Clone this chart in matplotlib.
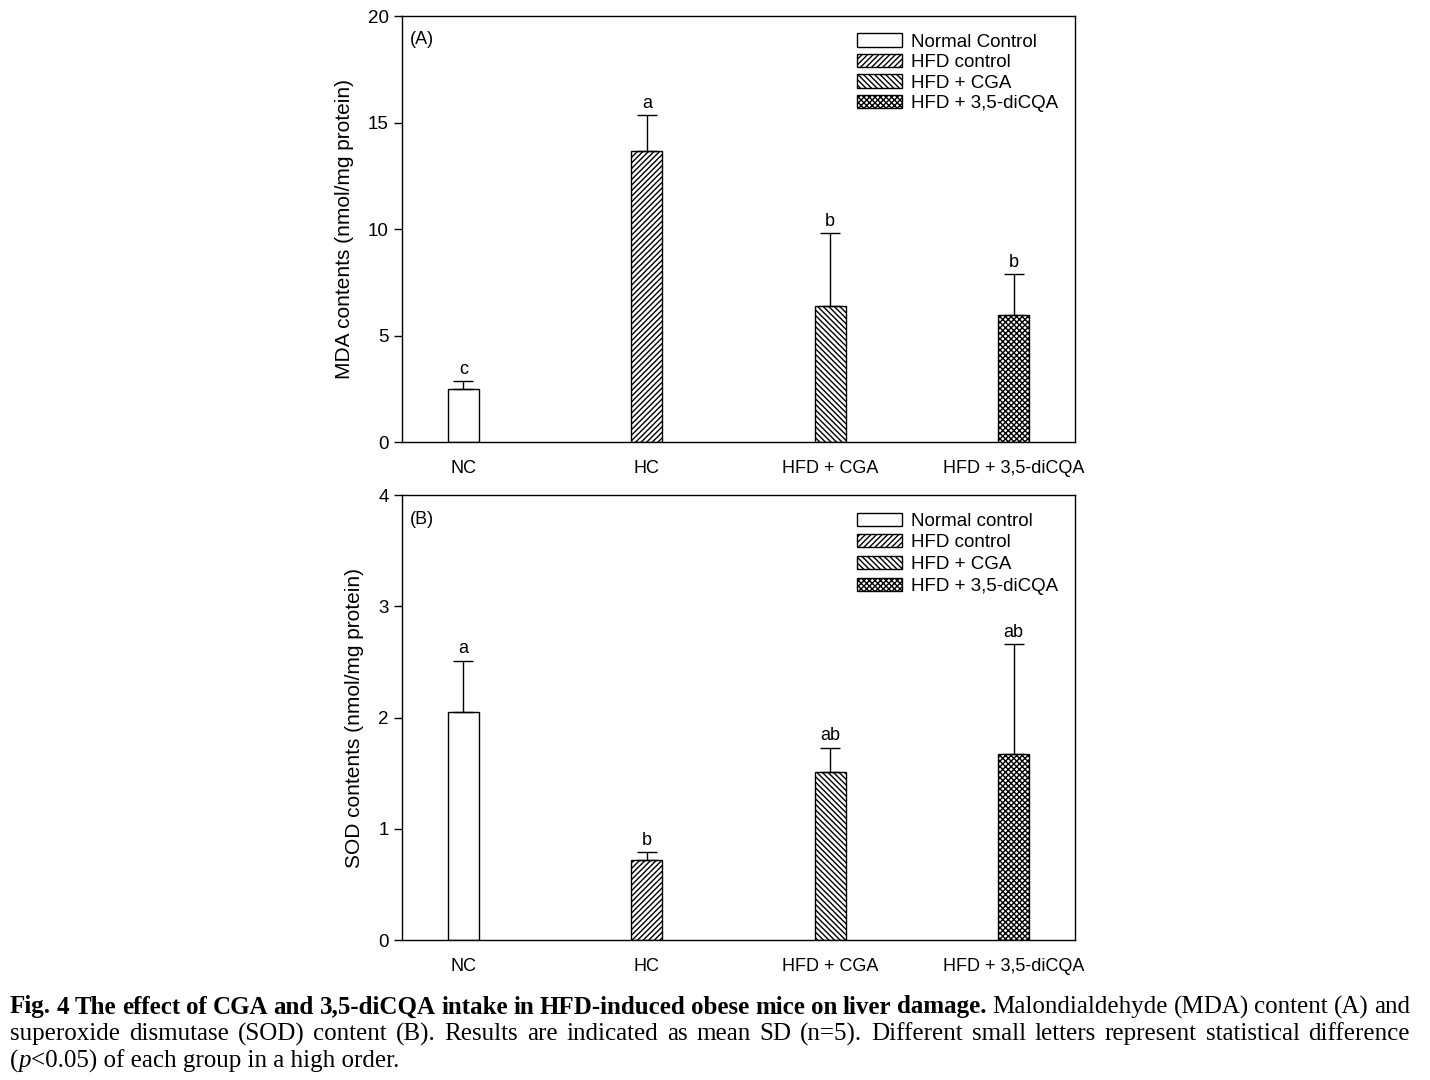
import matplotlib
matplotlib.use("Agg")
import matplotlib.pyplot as plt
import numpy as np

plt.rcParams['font.family'] = ['Liberation Sans', 'DejaVu Sans']
plt.rcParams['hatch.linewidth'] = 1.0

groups = ["NC", "HC", "HFD + CGA", "HFD + 3,5-diCQA"]
legend_a = ["Normal Control", "HFD control", "HFD + CGA", "HFD + 3,5-diCQA"]
legend_b = ["Normal control", "HFD control", "HFD + CGA", "HFD + 3,5-diCQA"]
mda_mean = [2.5, 13.65, 6.38, 5.97]
mda_sd = [0.36, 1.72, 3.43, 1.93]
mda_letters = ["c", "a", "b", "b"]
sod_mean = [2.05, 0.72, 1.51, 1.67]
sod_sd = [0.46, 0.07, 0.22, 0.99]
sod_letters = ["a", "b", "ab", "ab"]
hatches = [None, "//////", "\\\\\\\\\\\\", "xxxxxx"]

fig = plt.figure(figsize=(14.3, 10.8), dpi=100)

def panel(rect, means, sds, letters, ylim, yticks, ylabel, tag, legend_labels, letter_off, legspace):
    ax = fig.add_axes(rect)
    x = np.arange(len(groups))
    for i in range(len(groups)):
        ax.bar(x[i], means[i], width=0.17, color="white", edgecolor="black",
               linewidth=1.0, hatch=hatches[i], label=legend_labels[i], zorder=2)
        ax.errorbar(x[i], means[i], yerr=[[0], [sds[i]]], fmt="none", ecolor="black",
                    elinewidth=1.0, capsize=7, capthick=1.0, zorder=3)
        ax.text(x[i], means[i] + sds[i] + letter_off, letters[i], ha="center", va="bottom",
                fontsize=13)
    ax.set_xlim(-0.335, 3.335)
    ax.set_ylim(*ylim)
    ax.set_yticks(yticks)
    ax.set_xticks(x)
    ax.set_xticklabels(groups, fontsize=13)
    ax.tick_params(axis="x", length=0, pad=13)
    ax.tick_params(axis="y", direction="out", length=6, labelsize=13.5, width=1.0)
    for s in ax.spines.values():
        s.set_linewidth(1.0)
    ax.set_ylabel(ylabel, fontsize=15, labelpad=10)
    ax.text(0.012, 0.965, tag, transform=ax.transAxes, ha="left", va="top", fontsize=13)
    ax.legend(loc="upper right", bbox_to_anchor=(0.995, 0.99), frameon=False,
              fontsize=13.5, handlelength=2.4, handleheight=0.7, labelspacing=legspace,
              handletextpad=0.5, borderaxespad=0.3)
    return ax

panel([0.2811, 0.5907, 0.4706, 0.3944], mda_mean, mda_sd, mda_letters, (0, 20),
      [0, 5, 10, 15, 20], "MDA contents (nmol/mg protein)", "(A)", legend_a, 0.15, 0.18)
panel([0.2811, 0.1296, 0.4706, 0.4120], sod_mean, sod_sd, sod_letters, (0, 4),
      [0, 1, 2, 3, 4], "SOD contents (nmol/mg protein)", "(B)", legend_b, 0.03, 0.24)

# Caption (justified)
cap_lines = [
    [("Fig. 4 The effect of CGA and 3,5-diCQA intake in HFD-induced obese mice on liver damage.", "bold", "normal"),
     ("Malondialdehyde (MDA) content (A) and", "normal", "normal")],
    [("superoxide dismutase (SOD) content (B). Results are indicated as mean SD (n=5). Different small letters represent statistical difference", "normal", "normal")],
    [("(", "normal", "normal"), ("p", "normal", "italic"), ("<0.05) of each group in a high order.", "normal", "normal")],
]
fs = 18
x0, x1 = 10, 1410
ys = [1007, 1034, 1061]
fig.canvas.draw()
renderer = fig.canvas.get_renderer()

def width_of(s, weight, style):
    t = fig.text(0, 0, s, fontsize=fs, family="Liberation Serif", weight=weight, style=style)
    w = t.get_window_extent(renderer).width
    t.remove()
    return w

H = 1080.0
for li, line in enumerate(cap_lines):
    y = 1 - ys[li] / H
    if li < 2:
        words = []
        for seg, weight, style in line:
            for w in seg.split(" "):
                words.append((w, weight, style))
        widths = [width_of(w, wt, st) for w, wt, st in words]
        gap = (x1 - x0 - sum(widths)) / (len(words) - 1)
        xp = x0
        for (w, wt, st), wd in zip(words, widths):
            fig.text(xp / 1430.0, y, w, fontsize=fs, family="Liberation Serif", weight=wt,
                     style=st, va="center", ha="left")
            xp += wd + gap
    else:
        xp = x0
        for seg, wt, st in line:
            fig.text(xp / 1430.0, y, seg, fontsize=fs, family="Liberation Serif", weight=wt,
                     style=st, va="center", ha="left")
            xp += width_of(seg, wt, st)

fig.savefig("out.png", dpi=100)
